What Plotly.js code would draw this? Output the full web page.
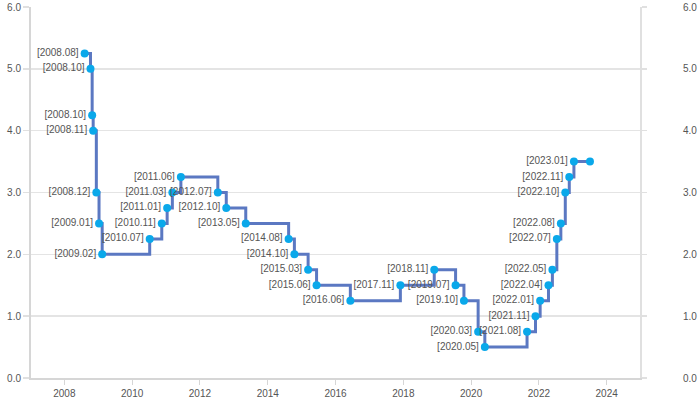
<!DOCTYPE html>
<html>
<head>
<meta charset="utf-8">
<script src="https://cdn.plot.ly/plotly-3.0.1.min.js"></script>
<style>html,body{margin:0;padding:0;background:#fff;}#chart{width:700px;height:407px;}</style>
</head>
<body>
<div id="chart"></div>
<script>
const dates = ["2008-08-07","2008-10-09","2008-10-27","2008-11-07","2008-12-11","2009-01-09","2009-02-12",
  "2010-07-09","2010-11-16","2011-01-13","2011-03-10","2011-06-10","2012-07-12","2012-10-11","2013-05-09",
  "2014-08-14","2014-10-15","2015-03-12","2015-06-11","2016-06-09","2017-11-30","2018-11-30","2019-07-18",
  "2019-10-16","2020-03-17","2020-05-28","2021-08-26","2021-11-25","2022-01-14","2022-04-14","2022-05-26",
  "2022-07-13","2022-08-25","2022-10-12","2022-11-24","2023-01-13","2023-07-05"];
const rates = [5.25,5.00,4.25,4.00,3.00,2.50,2.00,
  2.25,2.50,2.75,3.00,3.25,3.00,2.75,2.50,
  2.25,2.00,1.75,1.50,1.25,1.50,1.75,1.50,
  1.25,0.75,0.50,0.75,1.00,1.25,1.50,1.75,
  2.25,2.50,3.00,3.25,3.50,3.50];
const labels = ["[2008.08]","[2008.10]","[2008.10]","[2008.11]","[2008.12]","[2009.01]","[2009.02]",
  "[2010.07]","[2010.11]","[2011.01]","[2011.03]","[2011.06]","[2012.07]","[2012.10]","[2013.05]",
  "[2014.08]","[2014.10]","[2015.03]","[2015.06]","[2016.06]","[2017.11]","[2018.11]","[2019.07]",
  "[2019.10]","[2020.03]","[2020.05]","[2021.08]","[2021.11]","[2022.01]","[2022.04]","[2022.05]",
  "[2022.07]","[2022.08]","[2022.10]","[2022.11]","[2023.01]",""];
const yTicks = [0,1,2,3,4,5,6];
const yTickText = ["0.0","1.0","2.0","3.0","4.0","5.0","6.0"];
const xTicks = ["2008-01-01","2010-01-01","2012-01-01","2014-01-01","2016-01-01","2018-01-01","2020-01-01","2022-01-01","2024-01-01"];
const xTickText = ["2008","2010","2012","2014","2016","2018","2020","2022","2024"];

const font = {family: "Liberation Sans, Arial, sans-serif", size: 10, color: "#555"};

const traces = [
  {
    x: dates, y: rates, text: labels,
    type: "scatter", mode: "lines+markers+text",
    line: {shape: "hv", color: "#5b78c2", width: 3},
    marker: {color: "#0aa8ea", size: 8},
    textposition: "middle left",
    textfont: {family: font.family, size: 10, color: "#555"},
    cliponaxis: false, showlegend: false, hoverinfo: "x+y"
  },
  {
    x: [dates[0]], y: [rates[0]], yaxis: "y2", type: "scatter", mode: "markers",
    marker: {opacity: 0}, showlegend: false, hoverinfo: "skip"
  }
];

const layout = {
  width: 700, height: 407,
  margin: {l: 31, r: 60, t: 7, b: 28.5},
  paper_bgcolor: "#fff", plot_bgcolor: "#fff",
  font: font,
  showlegend: false,
  xaxis: {
    type: "date",
    range: ["2007-01-07", "2024-12-25"],
    tickmode: "array", tickvals: xTicks, ticktext: xTickText,
    showgrid: false, zeroline: false,
    showline: true, linecolor: "#d6d6d6", linewidth: 2,
    ticks: "outside", ticklen: 5, tickcolor: "#d6d6d6", tickwidth: 1,
    tickfont: font
  },
  yaxis: {
    range: [0, 6],
    tickmode: "array", tickvals: yTicks, ticktext: yTickText,
    showgrid: true, gridcolor: "#e4e4e4", gridwidth: 1.5,
    zeroline: false,
    showline: true, linecolor: "#d6d6d6", linewidth: 2,
    ticks: "outside", ticklen: 6, tickcolor: "#e0e0e0", tickwidth: 1.5,
    tickfont: font
  },
  yaxis2: {
    overlaying: "y", side: "right", anchor: "x",
    range: [0, 6],
    tickmode: "array", tickvals: yTicks, ticktext: yTickText,
    showgrid: false, zeroline: false,
    showline: true, linecolor: "#e0e0e0", linewidth: 2,
    ticks: "outside", ticklen: 5, tickcolor: "#e0e0e0", tickwidth: 1.5,
    ticklabelstandoff: 34,
    tickfont: font
  }
};

Plotly.newPlot("chart", traces, layout, {displayModeBar: false, staticPlot: true});
</script>
</body>
</html>
